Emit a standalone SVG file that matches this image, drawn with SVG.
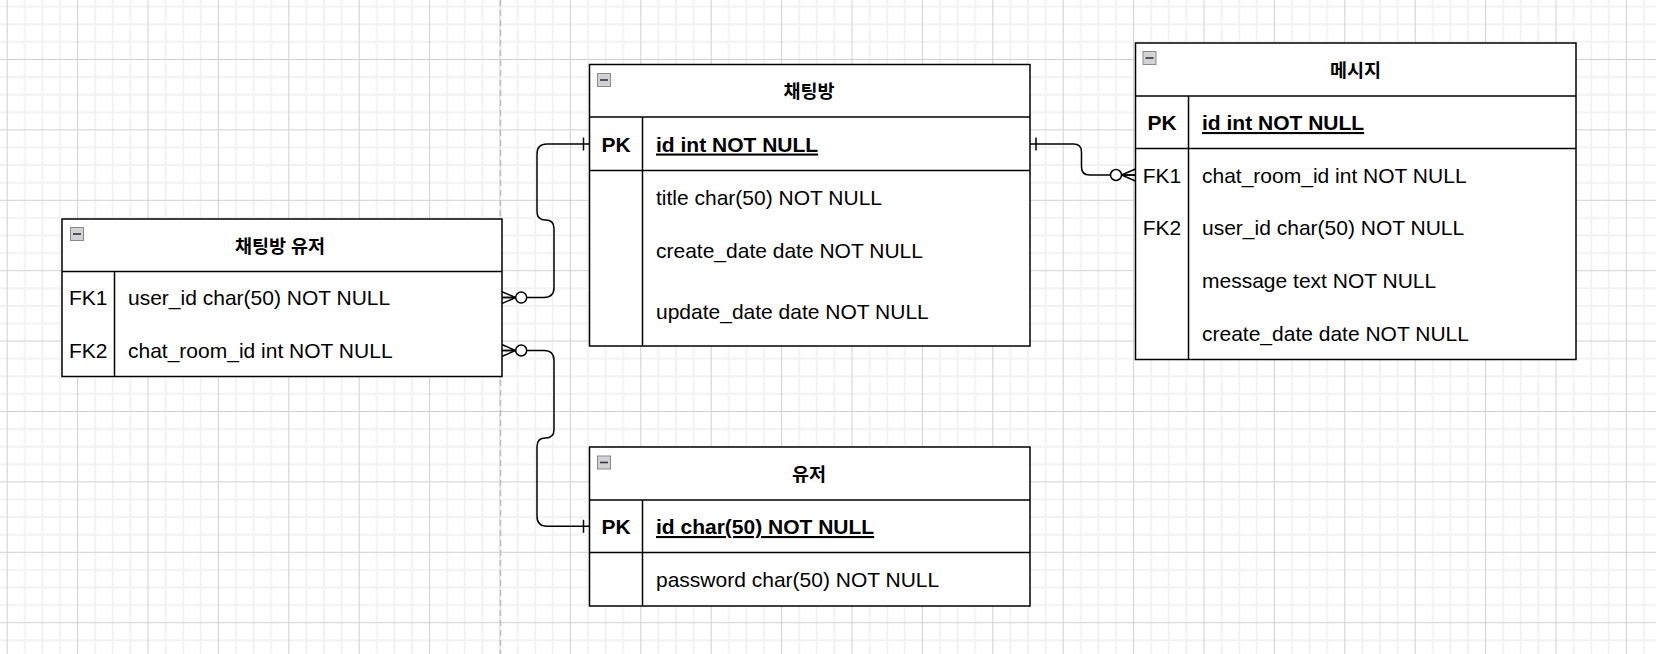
<svg xmlns="http://www.w3.org/2000/svg" width="1656" height="654" viewBox="0 0 1656 654">
<style>
.tbl{fill:#fff;stroke:#000;stroke-width:1.5}
.ln{stroke:#000;stroke-width:1.5;fill:none}
.t{font-family:"Liberation Sans",Arial,sans-serif;font-size:21px;fill:#000}
.b{font-weight:bold}
.u{text-decoration:underline}
.k{text-anchor:middle}
.title{font-family:"Liberation Sans","Noto Sans CJK KR",sans-serif;font-size:18.5px;font-weight:bold;text-anchor:middle;dominant-baseline:central;fill:#000}
.conn{fill:none;stroke:#000;stroke-width:1.5;marker-start:url(#zeroMany)}
.icon{fill:#d2d2d6;stroke:#8a8a8a;stroke-width:1}
.iconbar{stroke:#333;stroke-width:1.6}
</style>
<defs>
<pattern id="grid" x="6.7" y="59" width="70.4" height="70.4" patternUnits="userSpaceOnUse">
<path d="M18.1 0V70.4M35.7 0V70.4M53.3 0V70.4M0 18.1H70.4M0 35.7H70.4M0 53.3H70.4" stroke="#f2f2f2" stroke-width="2"/>
<path d="M0.5 0V70.4M0 0.5H70.4" stroke="#d0d0d0" stroke-width="1"/>
</pattern>
<marker id="zeroMany" markerUnits="userSpaceOnUse" orient="auto-start-reverse" refX="0" refY="0" markerWidth="1" markerHeight="1" overflow="visible">
<path d="M0 -6L-14 0L0 6M0 0H-14" fill="none" stroke="#000" stroke-width="1.5"/>
<circle cx="-19.5" cy="0" r="5.5" fill="#fff" stroke="#000" stroke-width="1.5"/>
</marker>
<marker id="one" markerUnits="userSpaceOnUse" orient="auto-start-reverse" refX="0" refY="0" markerWidth="1" markerHeight="1" overflow="visible">
<path d="M-6 -6.5V6.5" fill="none" stroke="#000" stroke-width="1.5"/>
</marker>
</defs>
<rect width="1656" height="654" fill="#fff"/>
<rect width="1656" height="654" fill="url(#grid)"/>
<line x1="500.5" y1="0" x2="500.5" y2="654" stroke="#bdbdbd" stroke-width="1.5" stroke-dasharray="6 4"/>

<g id="connectors">
<path class="conn" marker-end="url(#one)" d="M501.7 297.6H544Q554 297.6 554 287.6V228.5Q554 220 545.5 220Q537 220 537 211.5V154Q537 144 547 144H589.5"/>
<path class="conn" marker-end="url(#one)" d="M501.7 350.5H544Q554 350.5 554 360.5V429.5Q554 438 545.5 438Q537 438 537 446.5V516.3Q537 526.3 547 526.3H589.5"/>
<path d="M1030 144H1073.5Q1081.5 144 1081.5 152V167Q1081.5 175 1089.5 175H1135.5" fill="none" stroke="#000" stroke-width="1.5" marker-start="url(#one)" marker-end="url(#zeroMany)"/>
</g>

<g id="chat_room_user">
<rect class="tbl" x="62" y="219" width="440" height="157.5"/>
<line class="ln" x1="62" y1="271.5" x2="502" y2="271.5"/>
<line class="ln" x1="114.5" y1="271.5" x2="114.5" y2="376.5"/>
<rect class="icon" x="70.5" y="227.5" width="13" height="13"/>
<line class="iconbar" x1="73" y1="234" x2="81" y2="234"/>
<text class="title" x="280" y="246">채팅방 유저</text>
<text class="t k" x="88.2" y="305.3">FK1</text>
<text class="t" x="128" y="305.3">user_id char(50) NOT NULL</text>
<text class="t k" x="88.2" y="358.2">FK2</text>
<text class="t" x="128" y="358.2">chat_room_id int NOT NULL</text>
</g>

<g id="chat_room">
<rect class="tbl" x="589.5" y="64.5" width="440.5" height="281.5"/>
<line class="ln" x1="589.5" y1="117" x2="1030" y2="117"/>
<line class="ln" x1="589.5" y1="170.5" x2="1030" y2="170.5"/>
<line class="ln" x1="642.5" y1="117" x2="642.5" y2="346"/>
<rect class="icon" x="597.5" y="73.5" width="13" height="13"/>
<line class="iconbar" x1="600" y1="80" x2="608" y2="80"/>
<text class="title" x="809" y="91">채팅방</text>
<text class="t b k" x="616" y="151.5">PK</text>
<text class="t b u" x="656" y="151.5">id int NOT NULL</text>
<text class="t" x="656" y="205">title char(50) NOT NULL</text>
<text class="t" x="656" y="257.5">create_date date NOT NULL</text>
<text class="t" x="656" y="319">update_date date NOT NULL</text>
</g>

<g id="message">
<rect class="tbl" x="1135.5" y="43" width="440.5" height="316.5"/>
<line class="ln" x1="1135.5" y1="96" x2="1576" y2="96"/>
<line class="ln" x1="1135.5" y1="148.5" x2="1576" y2="148.5"/>
<line class="ln" x1="1188.5" y1="96" x2="1188.5" y2="359.5"/>
<rect class="icon" x="1143" y="51.5" width="13" height="13"/>
<line class="iconbar" x1="1145.5" y1="58" x2="1153.5" y2="58"/>
<text class="title" x="1355.5" y="70.5">메시지</text>
<text class="t b k" x="1162" y="130">PK</text>
<text class="t b u" x="1202" y="130">id int NOT NULL</text>
<text class="t k" x="1162" y="182.5">FK1</text>
<text class="t" x="1202" y="182.5">chat_room_id int NOT NULL</text>
<text class="t k" x="1162" y="235.3">FK2</text>
<text class="t" x="1202" y="235.3">user_id char(50) NOT NULL</text>
<text class="t" x="1202" y="288">message text NOT NULL</text>
<text class="t" x="1202" y="340.8">create_date date NOT NULL</text>
</g>

<g id="user">
<rect class="tbl" x="589.5" y="447" width="440.5" height="159"/>
<line class="ln" x1="589.5" y1="500" x2="1030" y2="500"/>
<line class="ln" x1="589.5" y1="552.5" x2="1030" y2="552.5"/>
<line class="ln" x1="642.5" y1="500" x2="642.5" y2="606"/>
<rect class="icon" x="597.5" y="456" width="13" height="13"/>
<line class="iconbar" x1="600" y1="462.5" x2="608" y2="462.5"/>
<text class="title" x="809" y="474.5">유저</text>
<text class="t b k" x="616" y="534">PK</text>
<text class="t b u" x="656" y="534">id char(50) NOT NULL</text>
<text class="t" x="656" y="586.5">password char(50) NOT NULL</text>
</g>
</svg>
